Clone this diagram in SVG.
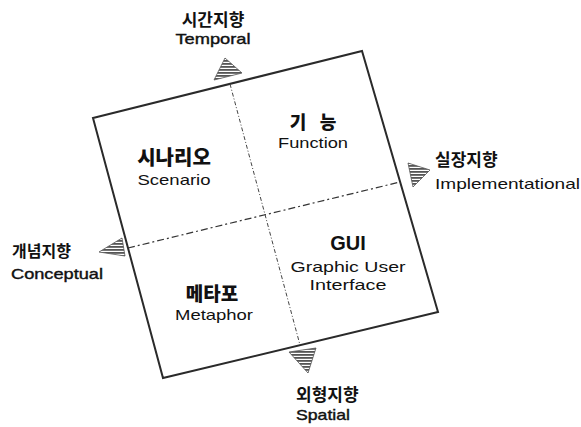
<svg xmlns="http://www.w3.org/2000/svg" width="581" height="427" viewBox="0 0 581 427">
<defs>
<pattern id="hatch" width="4" height="3" patternUnits="userSpaceOnUse">
<rect width="4" height="3" fill="#ffffff"/>
<rect width="4" height="1.8" fill="#555555"/>
</pattern>
<style>
.frame{fill:none;stroke:#2a2a2a;stroke-width:2}
.vdiv{stroke:#444;stroke-width:1;stroke-dasharray:4 2 1 2;fill:none}
.hdiv{stroke:#333;stroke-width:1.2;stroke-dasharray:7 3 2 3;fill:none}
.arrow{fill:url(#hatch);stroke:#555;stroke-width:0.8}
.ko{font-family:"Noto Sans CJK KR","Noto Sans",sans-serif;font-weight:bold;fill:#111}
.kob{font-family:"Noto Sans CJK KR","Noto Sans",sans-serif;font-weight:900;fill:#111}
.en{font-family:"Liberation Sans",Arial,sans-serif;fill:#111}
.enm{font-family:"Liberation Sans",Arial,sans-serif;fill:#111;stroke:#111;stroke-width:0.4}
.enb{font-family:"Liberation Sans",Arial,sans-serif;font-weight:bold;fill:#111}
</style>
</defs>
<g id="frame">
<polygon class="frame" points="93,118 362,51 438,312 163,378"/>
</g>
<g id="connectors">
<line class="vdiv" x1="230" y1="84" x2="300" y2="345"/>
<line class="hdiv" x1="128" y1="248" x2="400" y2="182"/>
<polygon class="arrow" points="225,58 214,80 242,73"/>
<polygon class="arrow" points="99,252 122,238 125,256"/>
<polygon class="arrow" points="408,163 430,170 413,187"/>
<polygon class="arrow" points="289,352 316,348 308,373"/>
</g>
<g id="scenario">
<text class="kob" x="174" y="165" font-size="20" text-anchor="middle">시나리오</text>
<text class="en" x="174" y="185" font-size="15" text-anchor="middle" textLength="73" lengthAdjust="spacingAndGlyphs">Scenario</text>
</g>
<g id="function">
<text class="kob" x="298" y="129" font-size="18" text-anchor="middle">기</text>
<text class="kob" x="328" y="129" font-size="18" text-anchor="middle">능</text>
<text class="en" x="313" y="148" font-size="15" text-anchor="middle" textLength="70" lengthAdjust="spacingAndGlyphs">Function</text>
</g>
<g id="gui">
<text class="enb" x="348" y="250" font-size="20" text-anchor="middle">GUI</text>
<text class="en" x="348" y="272" font-size="15" text-anchor="middle" textLength="115" lengthAdjust="spacingAndGlyphs">Graphic User</text>
<text class="en" x="348" y="290" font-size="15" text-anchor="middle" textLength="77" lengthAdjust="spacingAndGlyphs">Interface</text>
</g>
<g id="metaphor">
<text class="kob" x="212" y="301" font-size="19" text-anchor="middle">메타포</text>
<text class="en" x="214" y="320" font-size="15" text-anchor="middle" textLength="78" lengthAdjust="spacingAndGlyphs">Metaphor</text>
</g>
<g id="temporal">
<text class="ko" x="213" y="26" font-size="17" text-anchor="middle">시간지향</text>
<text class="enm" x="213" y="44" font-size="15" text-anchor="middle" textLength="75" lengthAdjust="spacingAndGlyphs">Temporal</text>
</g>
<g id="implementational">
<text class="ko" x="435" y="166" font-size="17">실장지향</text>
<text class="en" x="435" y="189" font-size="15" textLength="145" lengthAdjust="spacingAndGlyphs">Implementational</text>
</g>
<g id="conceptual">
<text class="ko" x="12" y="257" font-size="16">개념지향</text>
<text class="enm" x="11" y="279" font-size="15" textLength="92" lengthAdjust="spacingAndGlyphs">Conceptual</text>
</g>
<g id="spatial">
<text class="ko" x="296" y="401" font-size="17">외형지향</text>
<text class="enm" x="296" y="420" font-size="15" textLength="54" lengthAdjust="spacingAndGlyphs">Spatial</text>
</g>
</svg>
